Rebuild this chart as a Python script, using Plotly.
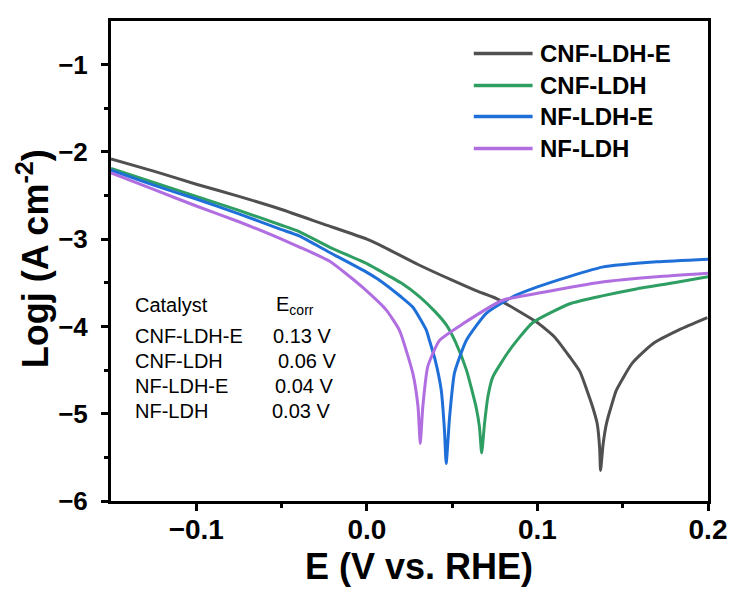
import plotly.graph_objects as go

# ---------------- data ----------------
series_names = ["CNF-LDH-E", "CNF-LDH", "NF-LDH-E", "NF-LDH"]

E_cnf_ldh_e = [-0.150, -0.125, -0.100, -0.075, -0.050, -0.025, 0.000, 0.010, 0.030, 0.050,
               0.064, 0.076, 0.0995, 0.110, 0.119, 0.125, 0.129, 0.132, 0.135, 0.1365, 0.137,
               0.1385, 0.1405, 0.1435, 0.1463, 0.1556, 0.1675, 0.183, 0.1996]
logj_cnf_ldh_e = [-2.08, -2.22, -2.37, -2.51, -2.66, -2.83, -3.00, -3.09, -3.29, -3.47,
                  -3.59, -3.68, -3.95, -4.12, -4.35, -4.52, -4.73, -4.90, -5.11, -5.40, -5.65,
                  -5.35, -5.11, -4.90, -4.73, -4.42, -4.20, -4.04, -3.90]

E_cnf_ldh = [-0.150, -0.125, -0.100, -0.075, -0.050, -0.040, -0.022, 0.000, 0.0074, 0.020,
             0.031, 0.040, 0.0465, 0.052, 0.0584, 0.064, 0.066, 0.0673, 0.069, 0.071, 0.0738,
             0.0837, 0.097, 0.119, 0.138, 0.158, 0.180, 0.200]
logj_cnf_ldh = [-2.19, -2.35, -2.51, -2.67, -2.84, -2.91, -3.09, -3.28, -3.36, -3.50,
                -3.66, -3.83, -3.98, -4.18, -4.50, -4.92, -5.15, -5.45, -5.11, -4.80, -4.58,
                -4.27, -3.96, -3.74, -3.65, -3.57, -3.50, -3.43]

E_nf_ldh_e = [-0.150, -0.125, -0.100, -0.075, -0.050, -0.040, -0.022, 0.000, 0.0074, 0.020,
              0.027, 0.0348, 0.0367, 0.040, 0.0436, 0.0455, 0.0465, 0.0485, 0.0514, 0.0583,
              0.070, 0.0855, 0.0996, 0.120, 0.138, 0.170, 0.200]
logj_nf_ldh_e = [-2.21, -2.38, -2.54, -2.71, -2.89, -2.96, -3.15, -3.38, -3.47, -3.66,
                 -3.78, -4.04, -4.16, -4.38, -4.73, -5.19, -5.57, -5.04, -4.53, -4.16,
                 -3.85, -3.66, -3.55, -3.42, -3.32, -3.26, -3.23]

E_nf_ldh = [-0.150, -0.125, -0.100, -0.075, -0.050, -0.0395, -0.022, -0.0125, -0.0026, 0.0113, 0.019,
            0.027, 0.030, 0.0313, 0.0328, 0.0357, 0.0426, 0.0563, 0.0797, 0.100, 0.138, 0.170, 0.200]
logj_nf_ldh = [-2.24, -2.43, -2.62, -2.80, -3.00, -3.09, -3.25, -3.39, -3.55, -3.81, -4.04,
               -4.54, -4.92, -5.34, -4.92, -4.46, -4.16, -3.97, -3.70, -3.62, -3.49, -3.43, -3.39]

table_catalysts = ["CNF-LDH-E", "CNF-LDH", "NF-LDH-E", "NF-LDH"]
table_ecorr = ["0.13 V", "0.06 V", "0.04 V", "0.03 V"]

x_ticks = [-0.1, 0.0, 0.1, 0.2]
y_ticks = [-1, -2, -3, -4, -5, -6]

# ---------------- style ----------------
colors = ["#505050", "#2f9e62", "#1f6fd9", "#b06ee0"]
FONT = "Arial"

xs = [E_cnf_ldh_e, E_cnf_ldh, E_nf_ldh_e, E_nf_ldh]
ys = [logj_cnf_ldh_e, logj_cnf_ldh, logj_nf_ldh_e, logj_nf_ldh]

fig = go.Figure()
for name, x, y, c in zip(series_names, xs, ys, colors):
    fig.add_trace(go.Scatter(x=x, y=y, mode="lines", name=name,
                             line=dict(color=c, width=3, shape="spline", smoothing=0.5),
                             showlegend=False))

# plot-area geometry (pixels) for placing text
W, H = 739, 592
ML, MR, MT, MB = 111, 29, 21, 91
PW, PH = W - ML - MR, H - MT - MB

def px2paper_x(px):
    return (px - ML) / PW

def px2paper_y(py):
    return (H - MB - py) / PH

annotations = []
shapes = []

# custom legend (long line samples)
leg_rows = [53.5, 85.5, 116.5, 148.5]
for name, c, py in zip(series_names, colors, leg_rows):
    shapes.append(dict(type="line", xref="paper", yref="paper",
                       x0=px2paper_x(475), x1=px2paper_x(534),
                       y0=px2paper_y(py), y1=px2paper_y(py),
                       line=dict(color=c, width=3.5)))
    annotations.append(dict(xref="paper", yref="paper", x=px2paper_x(539), y=px2paper_y(py),
                            text=name, showarrow=False, xanchor="left", yanchor="middle",
                            font=dict(family=FONT, size=24, color="black", weight="bold")))

# Ecorr table
tab_rows = [336, 360.5, 386, 411]
val_x = [272, 277, 274, 271]
annotations.append(dict(xref="paper", yref="paper", x=px2paper_x(133), y=px2paper_y(305),
                        text="Catalyst", showarrow=False, xanchor="left", yanchor="middle",
                        font=dict(family=FONT, size=20, color="black")))
annotations.append(dict(xref="paper", yref="paper", x=px2paper_x(275), y=px2paper_y(305),
                        text="E<sub>corr</sub>", showarrow=False, xanchor="left", yanchor="middle",
                        font=dict(family=FONT, size=20, color="black")))
for cat, val, py, vx in zip(table_catalysts, table_ecorr, tab_rows, val_x):
    annotations.append(dict(xref="paper", yref="paper", x=px2paper_x(133), y=px2paper_y(py),
                            text=cat, showarrow=False, xanchor="left", yanchor="middle",
                            font=dict(family=FONT, size=20, color="black")))
    annotations.append(dict(xref="paper", yref="paper", x=px2paper_x(vx), y=px2paper_y(py),
                            text=val, showarrow=False, xanchor="left", yanchor="middle",
                            font=dict(family=FONT, size=20, color="black")))

# axis titles
annotations.append(dict(xref="paper", yref="paper", x=px2paper_x(420), y=px2paper_y(566),
                        text="E (V vs. RHE)", showarrow=False, xanchor="center", yanchor="middle",
                        font=dict(family=FONT, size=36, color="black", weight="bold")))
annotations.append(dict(xref="paper", yref="paper", x=px2paper_x(33), y=px2paper_y(259),
                        text="Logj (A cm<sup>-2</sup>)", showarrow=False, textangle=-90,
                        xanchor="center", yanchor="middle",
                        font=dict(family=FONT, size=36, color="black", weight="bold")))

axis_common = dict(showgrid=False, zeroline=False, showline=True, linecolor="black",
                   linewidth=3, mirror=True, ticks="outside", ticklen=7, tickwidth=2.5,
                   tickcolor="black")

fig.update_layout(
    width=W, height=H, autosize=False,
    margin=dict(l=ML, r=MR, t=MT, b=MB, pad=0),
    paper_bgcolor="white", plot_bgcolor="white",
    showlegend=False,
    xaxis=dict(range=[-0.15, 0.2], tickmode="array", tickvals=x_ticks,
               ticktext=["\u22120.1", "0.0", "0.1", "0.2"],
               minor=dict(tickmode="array", tickvals=[-0.05, 0.05, 0.15], ticks="outside",
                          ticklen=4, tickwidth=2.5, tickcolor="black"),
               tickfont=dict(family=FONT, size=28, color="black", weight="bold"),
               ticklabelstandoff=-6, **axis_common),
    yaxis=dict(range=[-6, -0.5], tickmode="array", tickvals=y_ticks,
               ticktext=["\u2212" + str(abs(v)) for v in y_ticks],
               minor=dict(tickmode="array", tickvals=[-1.5, -2.5, -3.5, -4.5, -5.5], ticks="outside",
                          ticklen=4, tickwidth=2.5, tickcolor="black"),
               tickfont=dict(family=FONT, size=26, color="black", weight="bold"),
               ticklabelstandoff=8, **axis_common),
    annotations=annotations,
    shapes=shapes,
)

fig.write_html("out.html")
